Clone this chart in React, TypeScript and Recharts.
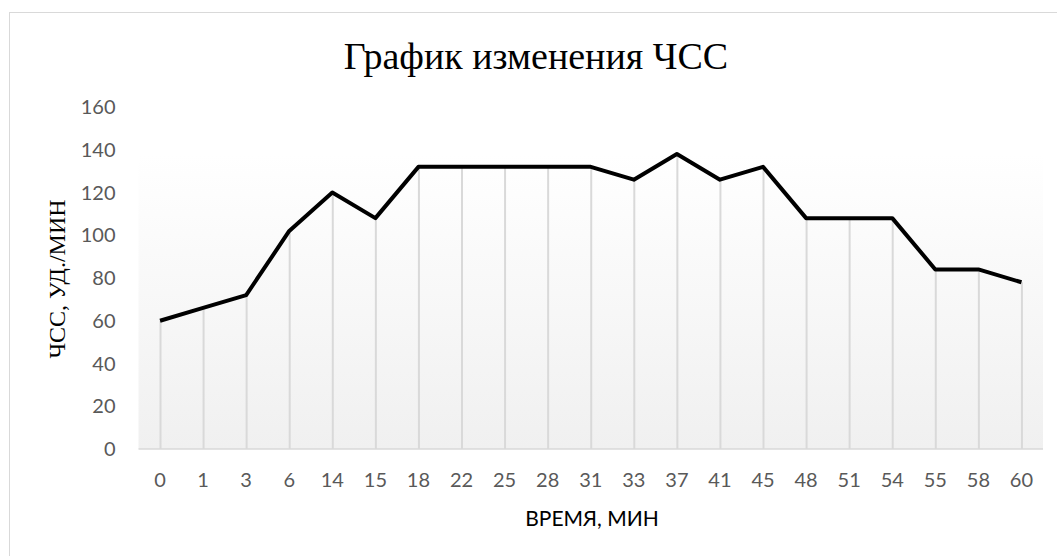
import {
  ComposedChart,
  Line,
  Bar,
  XAxis,
  YAxis,
  ReferenceArea,
} from "recharts";

const minutes = ["0", "1", "3", "6", "14", "15", "18", "22", "25", "28", "31", "33", "37", "41", "45", "48", "51", "54", "55", "58", "60"];
const heartRate = [60, 66, 72, 102, 120, 108, 132, 132, 132, 132, 132, 126, 138, 126, 132, 108, 108, 108, 84, 84, 78];
const yTicks = [0, 20, 40, 60, 80, 100, 120, 140, 160];

const data = minutes.map((m, i) => ({ time: m, hr: heartRate[i] }));
const maxHr = Math.max(...heartRate);

const tickStyle = { fill: "#595959", fontSize: 20, fontFamily: "Lato, sans-serif" };

export default function App() {
  return (
    <div
      style={{
        position: "absolute",
        left: 0,
        top: 0,
        width: 1057,
        height: 556,
        background: "#fff",
        overflow: "hidden",
      }}
    >
      <div
        style={{
          position: "absolute",
          left: 9,
          top: 12,
          width: 1100,
          height: 600,
          border: "1px solid #d9d9d9",
        }}
      />
      <div
        style={{
          position: "absolute",
          left: 536,
          top: 56,
          transform: "translate(-50%, -50%)",
          whiteSpace: "nowrap",
          fontFamily: "'Liberation Serif', 'Times New Roman', serif",
          fontSize: 38,
          color: "#000",
        }}
      >
        График изменения ЧСС
      </div>
      <div
        style={{
          position: "absolute",
          left: 57,
          top: 279,
          transform: "translate(-50%, -50%) rotate(-90deg)",
          whiteSpace: "nowrap",
          fontFamily: "'Liberation Serif', 'Times New Roman', serif",
          fontSize: 24,
          color: "#000",
        }}
      >
        ЧСС, УД./МИН
      </div>
      <div
        style={{
          position: "absolute",
          left: 592,
          top: 517,
          transform: "translate(-50%, -50%)",
          whiteSpace: "nowrap",
          fontFamily: "Lato, sans-serif",
          fontSize: 21,
          color: "#000",
        }}
      >
        ВРЕМЯ, МИН
      </div>
      <div style={{ position: "absolute", left: 0, top: 0 }}>
        <ComposedChart
          width={1057}
          height={556}
          data={data}
          margin={{ top: 107, right: 14, bottom: 47, left: 0 }}
        >
          <defs>
            <linearGradient id="bgGrad" x1="0" y1="0" x2="0" y2="1">
              <stop offset="0%" stopColor="#ffffff" />
              <stop offset="100%" stopColor="#f0f0f0" />
            </linearGradient>
          </defs>
          <XAxis
            dataKey="time"
            tick={tickStyle}
            tickLine={false}
            tickSize={0}
            tickMargin={24}
            height={60}
            axisLine={{ stroke: "#d9d9d9", strokeWidth: 1.5 }}
          />
          <YAxis
            domain={[0, 160]}
            ticks={yTicks}
            width={138.5}
            tick={tickStyle}
            tickLine={false}
            tickSize={0}
            tickMargin={23}
            axisLine={false}
          />
          <ReferenceArea
            y1={0}
            y2={maxHr}
            fill="url(#bgGrad)"
            fillOpacity={1}
            stroke="none"
            ifOverflow="extendDomain"
          />
          <Bar dataKey="hr" barSize={2} fill="#d9d9d9" isAnimationActive={false} />
          <Line
            type="linear"
            dataKey="hr"
            stroke="#000"
            strokeWidth={4}
            strokeLinejoin="round"
            dot={false}
            activeDot={false}
            isAnimationActive={false}
          />
        </ComposedChart>
      </div>
    </div>
  );
}
